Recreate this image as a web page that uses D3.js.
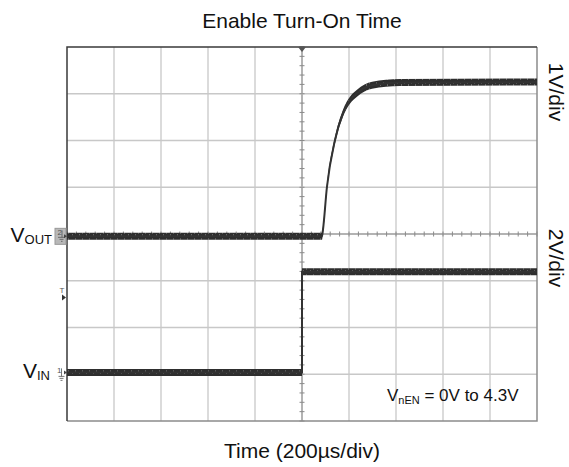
<!DOCTYPE html>
<html>
<head>
<meta charset="utf-8">
<script src="https://cdn.jsdelivr.net/npm/d3@7"></script>
<style>
  body { margin: 0; background: #fff; }
  svg { display: block; font-family: "Liberation Sans", Arial, sans-serif; }
</style>
</head>
<body>
<svg id="chart"></svg>
<script>
const width = 569,
      height = 467,
      margin = {top: 47, right: 32, bottom: 46, left: 67};

// time axis in µs, 200µs/div, trigger at centre
const timeDomain = [-1000, 1000];
const xDivs = 10, yDivs = 8;

// VOUT (channel 2, 1V/div): [time µs, volts]
const voutTime  = [-1000, 85, 89, 106, 140, 174, 204, 234, 298, 417, 1000];
const voutVolts = [0, 0, 0.13, 1.05, 2.05, 2.63, 2.91, 3.06, 3.23, 3.29, 3.3];

// VIN (channel 1, 2V/div)
const vinTime  = [-1000, 0, 0, 1000];
const vinVolts = [0, 0, 4.3, 4.3];

// channel settings: volts per div and ground offset in divisions
const channels = [
  {name: "VOUT", id: "2", voltsPerDiv: 1, offsetDiv: -0.05},
  {name: "VIN",  id: "1", voltsPerDiv: 2, offsetDiv: -2.96}
];
const triggerLevel = 3.2; // volts on channel 1

const svg = d3.select("#chart").attr("width", width).attr("height", height);

const x = d3.scaleLinear()
  .domain(timeDomain)
  .range([margin.left, width - margin.right]);

const yDiv = d3.scaleLinear()
  .domain([-yDivs / 2, yDivs / 2])
  .range([height - margin.bottom, margin.top]);

const chY = ch => v => yDiv(v / ch.voltsPerDiv + ch.offsetDiv);
const yOut = chY(channels[0]);
const yIn  = chY(channels[1]);

// grid
const grid = svg.append("g").attr("class", "grid");
const xTicks = d3.range(xDivs + 1).map(i => timeDomain[0] + i * (timeDomain[1] - timeDomain[0]) / xDivs);
const yTicks = d3.range(-yDivs / 2, yDivs / 2 + 1);

grid.selectAll(".vline")
  .data(xTicks.slice(1, -1))
  .join("line")
  .attr("x1", d => x(d)).attr("x2", d => x(d))
  .attr("y1", margin.top).attr("y2", height - margin.bottom)
  .attr("stroke", d => d === 0 ? "#9a9a9a" : "#cfcfcf")
  .attr("stroke-width", 1.5);

grid.selectAll(".hline")
  .data(yTicks.slice(1, -1))
  .join("line")
  .attr("x1", margin.left).attr("x2", width - margin.right)
  .attr("y1", d => yDiv(d)).attr("y2", d => yDiv(d))
  .attr("stroke", d => d === 0 ? "#9a9a9a" : "#c8c8c8")
  .attr("stroke-width", 1.5);

// minor ticks on the centre lines (5 per div)
const minorX = d3.range(xDivs * 5 + 1).map(i => timeDomain[0] + i * (timeDomain[1] - timeDomain[0]) / (xDivs * 5));
const minorY = d3.range(yDivs * 5 + 1).map(i => -yDivs / 2 + i / 5);

grid.selectAll(".mx")
  .data(minorX)
  .join("line")
  .attr("x1", d => x(d)).attr("x2", d => x(d))
  .attr("y1", yDiv(0) - 2.5).attr("y2", yDiv(0) + 2.5)
  .attr("stroke", "#8a8a8a");

grid.selectAll(".my")
  .data(minorY)
  .join("line")
  .attr("y1", d => yDiv(d)).attr("y2", d => yDiv(d))
  .attr("x1", x(0) - 2.5).attr("x2", x(0) + 2.5)
  .attr("stroke", "#8a8a8a");

// frame
svg.append("path")
  .attr("d", `M${x(timeDomain[0])},${yDiv(-4)} L${x(timeDomain[1])},${yDiv(-4)} L${x(timeDomain[1])},${yDiv(4)}`)
  .attr("stroke", "#8c8c8c").attr("stroke-width", 1.5).attr("fill", "none");
svg.append("path")
  .attr("d", `M${x(timeDomain[0])},${yDiv(-4)} L${x(timeDomain[0])},${yDiv(4)} L${x(timeDomain[1])},${yDiv(4)}`)
  .attr("stroke", "#3a3a3a").attr("stroke-width", 1.5).attr("fill", "none");

// trigger position marker at top
svg.append("path")
  .attr("d", `M${x(0) - 4},${margin.top} L${x(0) + 4},${margin.top} L${x(0)},${margin.top + 5}Z`)
  .attr("fill", "#555");

// traces: noisy band drawn as a fixed-height area plus a thin core line
const defs = svg.append("defs");
const pat = defs.append("pattern")
  .attr("id", "noise").attr("patternUnits", "userSpaceOnUse")
  .attr("width", 7).attr("height", 6);
pat.append("rect").attr("width", 7).attr("height", 6).attr("fill", "#2e2e2e");
pat.append("rect").attr("x", 2).attr("y", 0).attr("width", 1).attr("height", 2).attr("fill", "#6a6a6a");
pat.append("rect").attr("x", 5).attr("y", 4).attr("width", 1).attr("height", 2).attr("fill", "#5a5a5a");

function drawTrace(times, volts, yFn, halfBand) {
  const pts = times.map((t, i) => [t, volts[i]]);
  const g = svg.append("g").attr("class", "trace");
  g.append("path")
    .datum(pts)
    .attr("d", d3.area()
      .x(d => x(d[0]))
      .y0(d => yFn(d[1]) + halfBand)
      .y1(d => yFn(d[1]) - halfBand)
      .curve(d3.curveMonotoneX))
    .attr("fill", "url(#noise)");
  g.append("path")
    .datum(pts)
    .attr("d", d3.line()
      .x(d => x(d[0]))
      .y(d => yFn(d[1]))
      .curve(d3.curveMonotoneX))
    .attr("fill", "none")
    .attr("stroke", "#333")
    .attr("stroke-width", 2);
}

drawTrace(voutTime, voutVolts, yOut, 3.5);
drawTrace(vinTime, vinVolts, yIn, 3.5);

// channel ground markers on the left edge
const m2 = svg.append("g").attr("transform", `translate(${margin.left - 12},${yOut(0)})`);
m2.append("rect").attr("x", 0).attr("y", -8).attr("width", 11).attr("height", 16)
  .attr("fill", "#b8b8b8").attr("stroke", "#999");
m2.append("text").attr("x", 2.5).attr("y", -1).attr("font-size", 8).attr("fill", "#555").text("2");
m2.append("path").attr("d", "M7,-6 L7,1 M3,1 L10,1 M4.5,3 L8.5,3 M6,5 L7.5,5")
  .attr("stroke", "#555").attr("stroke-width", 0.8).attr("fill", "none");
m2.append("path").attr("d", "M9,-2 L12,0 L9,2Z").attr("fill", "#444");

const m1 = svg.append("g").attr("transform", `translate(${margin.left - 11},${yIn(0)})`);
m1.append("text").attr("x", 1).attr("y", 1).attr("font-size", 8).attr("fill", "#555").text("1");
m1.append("path").attr("d", "M5.5,-4 L5.5,4 M2.5,4 L8.5,4 M3.5,6 L7.5,6 M4.5,8 L6.5,8")
  .attr("stroke", "#555").attr("stroke-width", 0.8).attr("fill", "none");
m1.append("path").attr("d", "M8,-2 L11,0 L8,2Z").attr("fill", "#444");

const mt = svg.append("g").attr("transform", `translate(${margin.left - 5},${yIn(triggerLevel)})`);
mt.append("text").attr("x", -2.5).attr("y", -5).attr("font-size", 8).attr("fill", "#555").text("T");
mt.append("path").attr("d", "M0,-3 L4,0 L0,3Z").attr("fill", "#333");

// channel labels on the left, right-aligned against the markers
function subLabel(xPos, yPos, main, sub, size, subSize) {
  const t = svg.append("text")
    .attr("x", xPos).attr("y", yPos)
    .attr("font-size", size)
    .attr("text-anchor", "end")
    .attr("fill", "#111");
  t.append("tspan").text(main);
  t.append("tspan").attr("font-size", subSize).attr("dy", 2).text(sub);
  return t;
}
subLabel(52, yOut(0) + 6, "V", "OUT", 21, 13);
subLabel(50, yIn(0) + 6, "V", "IN", 21, 13);

// annotation inside the plot
const ann = svg.append("text")
  .attr("x", 387).attr("y", 401)
  .attr("font-size", 17)
  .attr("fill", "#111");
ann.append("tspan").text("V");
ann.append("tspan").attr("font-size", 11).attr("dy", 3).text("nEN");
ann.append("tspan").attr("dy", -3).text(" = 0V to 4.3V");

// title and axis label
svg.append("text")
  .attr("x", x(0)).attr("y", 28)
  .attr("text-anchor", "middle")
  .attr("font-size", 21)
  .attr("fill", "#111")
  .text("Enable Turn-On Time");

svg.append("text")
  .attr("x", x(0)).attr("y", 458)
  .attr("text-anchor", "middle")
  .attr("font-size", 21)
  .attr("fill", "#111")
  .text("Time (200µs/div)");

// volts/div labels on the right, rotated
[["1V/div", 92], ["2V/div", 258]].forEach(([label, yc]) => {
  svg.append("text")
    .attr("transform", `translate(549,${yc}) rotate(90)`)
    .attr("text-anchor", "middle")
    .attr("font-size", 21)
    .attr("fill", "#111")
    .text(label);
});
</script>
</body>
</html>
